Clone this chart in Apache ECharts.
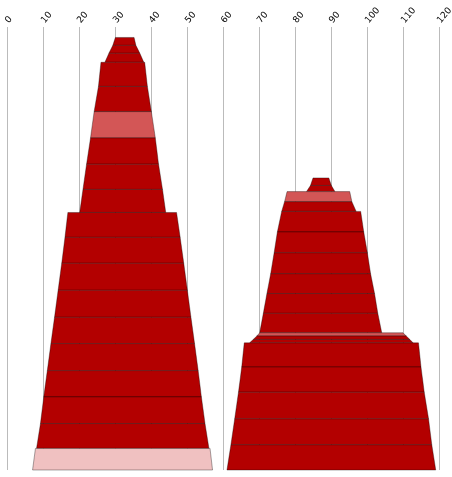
<!DOCTYPE html>
<html>
<head>
<meta charset="utf-8">
<script src="https://cdn.jsdelivr.net/npm/echarts@6/dist/echarts.min.js"></script>
<style>
html,body{margin:0;padding:0;background:#fff;}
#chart{width:452px;height:477px;}
</style>
</head>
<body>
<div id="chart"></div>
<script>
// Each segment: [yTop, yBottom, topLeft, topRight, bottomLeft, bottomRight, shade]
// x values in axis units (0-120), y values in depth units (0 at top)
var leftSegments = [
  [2.9, 5.1, 30.1, 35.3, 29.4, 35.8, 0],
  [5.1, 7.3, 29.4, 35.8, 28.3, 36.9, 0],
  [7.3, 9.8, 28.3, 36.9, 27.2, 38.0, 0],
  [9.8, 16.5, 26.1, 38.25, 25.4, 39.0, 0],
  [16.5, 23.5, 25.4, 39.0, 24.2, 40.1, 0],
  [23.5, 30.8, 24.2, 40.1, 23.2, 41.2, 1],
  [30.8, 38.1, 23.2, 41.2, 22.1, 42.1, 0],
  [38.1, 45.1, 22.1, 42.1, 21.1, 43.2, 0],
  [45.1, 51.5, 21.1, 43.2, 20.2, 44.1, 0],
  [51.5, 58.4, 16.9, 47.1, 16.1, 48.1, 0],
  [58.4, 65.6, 16.1, 48.1, 15.2, 49.1, 0],
  [65.6, 73.1, 15.2, 49.1, 14.2, 50.1, 0],
  [73.1, 80.6, 14.2, 50.1, 13.2, 51.1, 0],
  [80.6, 87.9, 13.2, 51.1, 12.2, 52.1, 0],
  [87.9, 95.4, 12.2, 52.1, 11.2, 53.1, 0],
  [95.4, 102.7, 11.2, 53.1, 10.2, 54.0, 0],
  [102.7, 110.1, 10.2, 54.0, 9.3, 55.0, 0],
  [110.1, 117.0, 9.3, 55.0, 8.2, 56.1, 0],
  [117.0, 123.0, 7.9, 56.4, 7.1, 57.1, 2]
];
var rightSegments = [
  [41.9, 44.0, 85.0, 89.4, 84.3, 90.1, 0],
  [44.0, 45.7, 84.3, 90.1, 83.2, 91.1, 0],
  [45.7, 48.5, 77.8, 95.2, 77.1, 95.8, 1],
  [48.5, 51.2, 77.1, 95.8, 76.3, 97.0, 0],
  [51.2, 56.9, 76.3, 98.25, 75.1, 99.1, 0],
  [56.9, 62.7, 75.1, 99.1, 74.2, 100.1, 0],
  [62.7, 68.5, 74.2, 100.1, 73.25, 101.0, 0],
  [68.5, 74.0, 73.25, 101.0, 72.2, 102.1, 0],
  [74.0, 79.5, 72.2, 102.1, 71.2, 103.0, 0],
  [79.5, 84.9, 71.2, 103.0, 70.2, 104.1, 0],
  [84.9, 85.8, 70.2, 110.0, 69.4, 110.9, 1],
  [85.8, 86.75, 69.4, 110.9, 68.4, 111.9, 0],
  [86.75, 87.7, 68.4, 111.9, 67.4, 112.8, 0],
  [87.7, 94.4, 65.9, 114.3, 65.2, 115.0, 0],
  [94.4, 101.4, 65.2, 115.0, 64.3, 115.9, 0],
  [101.4, 108.8, 64.3, 115.9, 63.25, 117.1, 0],
  [108.8, 116.0, 63.25, 117.1, 62.2, 118.0, 0],
  [116.0, 123.0, 62.2, 118.0, 61.1, 119.1, 0]
];
var xMin = 0, xMax = 120, xStep = 10;
var yMax = 123;

var shadeColors = ['#b30000', '#d35656', '#f0c1c1'];

function renderSeg(params, api) {
  var y0 = api.value(0), y1 = api.value(1);
  var p1 = api.coord([api.value(2), y0]);
  var p2 = api.coord([api.value(3), y0]);
  var p3 = api.coord([api.value(5), y1]);
  var p4 = api.coord([api.value(4), y1]);
  return {
    type: 'polygon',
    shape: { points: [p1, p2, p3, p4] },
    style: {
      fill: shadeColors[api.value(6)],
      stroke: 'rgba(0,0,0,0.42)',
      lineWidth: 0.8
    }
  };
}

var chart = echarts.init(document.getElementById('chart'), null, {renderer: 'canvas'});
chart.setOption({
  animation: false,
  backgroundColor: '#fff',
  grid: { left: 7, right: 13, top: 27, bottom: 7, containLabel: false, outerBoundsMode: 'none' },
  xAxis: {
    type: 'value', position: 'top', min: xMin, max: xMax, interval: xStep,
    axisLine: { show: false }, axisTick: { show: false },
    axisLabel: { rotate: 50, fontSize: 9, color: '#000', fontFamily: 'DejaVu Sans', margin: 5 },
    splitLine: { show: true, lineStyle: { color: '#bbbbbb', width: 1 } }
  },
  yAxis: {
    type: 'value', inverse: true, min: 0, max: yMax, show: false,
    splitLine: { show: false }
  },
  series: [
    { type: 'custom', renderItem: renderSeg, data: leftSegments,
      encode: { x: [2, 3, 4, 5], y: [0, 1] }, clip: false },
    { type: 'custom', renderItem: renderSeg, data: rightSegments,
      encode: { x: [2, 3, 4, 5], y: [0, 1] }, clip: false }
  ]
});
</script>
</body>
</html>
